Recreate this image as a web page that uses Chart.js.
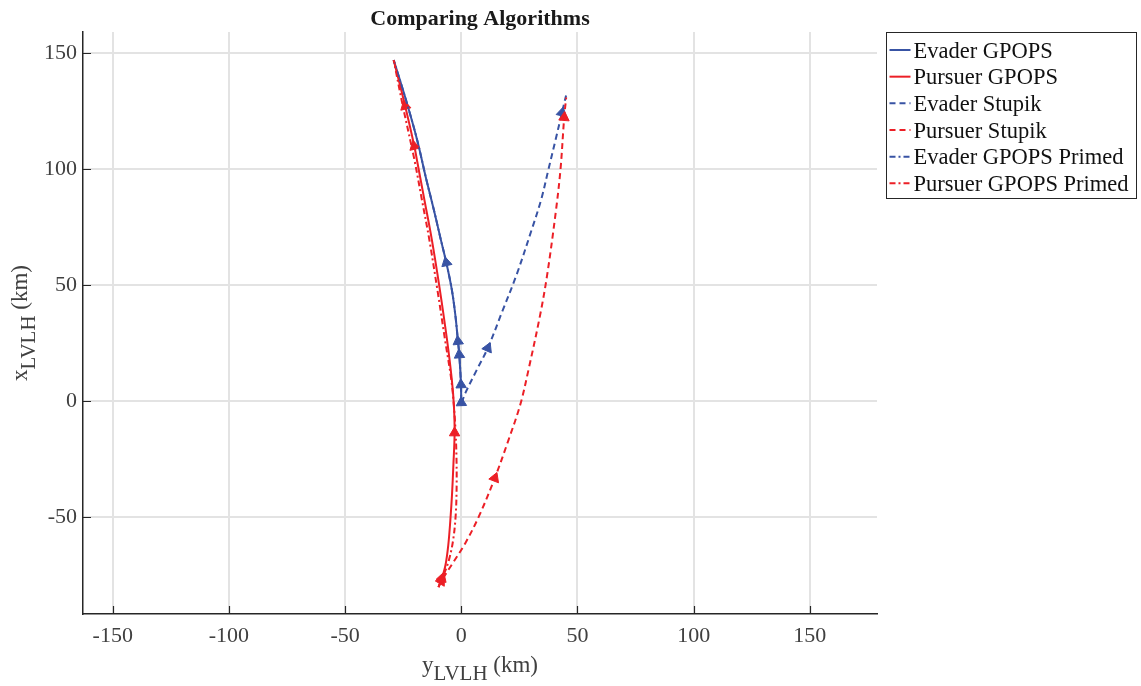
<!DOCTYPE html>
<html>
<head>
<meta charset="utf-8">
<title>Comparing Algorithms</title>
<script src="https://cdn.jsdelivr.net/npm/chart.js@4.4.0/dist/chart.umd.min.js"></script>
<style>
  html, body { margin: 0; padding: 0; background: #fff; }
  #wrap { width: 1141px; height: 686px; }
</style>
</head>
<body>
<div id="wrap"><canvas id="chart" width="1141" height="686"></canvas></div>
<script>
// ===== Trajectories in the LVLH frame (km), y along the horizontal axis =====
const seriesNames = ['Evader GPOPS', 'Pursuer GPOPS', 'Evader Stupik', 'Pursuer Stupik', 'Evader GPOPS Primed', 'Pursuer GPOPS Primed'];

const evaderGpopsY = [0.2, 0.0, -0.13, -0.86, -1.42, -2.58, -4.08, -6.45, -8.81, -11.82, -15.05, -19.05, -23.86, -29.1];
const evaderGpopsX = [-1.9, -0.6, 7.1, 20.0, 25.8, 37.3, 48.1, 59.7, 69.6, 82.5, 95.5, 112.7, 129.9, 146.9];
const evaderGpopsArrows = [1, 2, 3, 4, 7];

const pursuerGpopsY = [-9.8, -8.3, -6.8, -5.6, -4.7, -4.0, -3.4, -2.88, -3.18, -4.08, -6.15, -9.24, -12.68, -15.91, -19.13, -20.2, -24.16, -29.1];
const pursuerGpopsX = [-80.0, -76.1, -70.5, -61.9, -51.1, -40.3, -27.4, -13.6, -1.9, 9.3, 26.5, 48.1, 69.6, 86.9, 104.1, 109.8, 127.1, 146.9];
const pursuerGpopsArrows = [1, 7, 15, 16];

const evaderStupikY = [0.2, 1.72, 6.45, 11.4, 17.6, 23.8, 30.3, 34.4, 37.5, 40.6, 43.3, 45.1];
const evaderStupikX = [-0.6, 3.5, 13.1, 22.9, 38.6, 54.5, 73.9, 86.9, 99.8, 112.7, 124.2, 131.7];
const evaderStupikArrows = [3, 10];

const pursuerStupikY = [-9.8, -8.6, -3.87, 1.72, 7.52, 14.4, 20.34, 25.37, 28.93, 33.96, 36.97, 40.63, 42.69, 44.28, 45.14];
const pursuerStupikX = [-80.0, -77.4, -70.0, -61.1, -49.7, -33.1, -16.6, -1.5, 13.6, 37.3, 54.5, 81.3, 99.8, 122.2, 130.8];
const pursuerStupikArrows = [1, 5, 13];

const evaderPrimedY = [0.2, 0.0, -0.13, -0.86, -1.42, -2.58, -4.08, -6.45, -8.81, -11.82, -15.05, -19.05, -23.86, -29.1];
const evaderPrimedX = [-1.9, -0.6, 7.1, 20.0, 25.8, 37.3, 48.1, 59.7, 69.6, 82.5, 95.5, 112.7, 129.9, 146.9];
const evaderPrimedArrows = [];

const pursuerPrimedY = [-9.8, -7.6, -5.3, -3.5, -2.4, -2.0, -2.1, -2.5, -3.22, -4.3, -7.0, -10.3, -13.76, -16.98, -20.2, -25.15, -29.1];
const pursuerPrimedX = [-80.0, -74.8, -68.3, -59.7, -48.9, -36.0, -23.1, -12.3, -1.5, 9.3, 26.5, 48.1, 69.6, 86.9, 104.1, 127.1, 146.9];
const pursuerPrimedArrows = [];

const xTicks = [-150, -100, -50, 0, 50, 100, 150];
const yTicks = [-50, 0, 50, 100, 150];

const xMin = -162.8, xMax = 178.9;
const yMin = -91.6, yMax = 159;

const blue = '#3853a4';
const red = '#ec1f26';
const axisColor = '#262626';
const tickColor = '#404040';
const serif = '"Liberation Serif", "Times New Roman", serif';

const dashed = [6, 4];
const dashDot = [6, 3, 2, 3];

// direction of travel at point i, as a clockwise angle from "up" (axes are equal)
function heading(hs, vs, i) {
    const a = Math.max(i - 1, 0), b = Math.min(i + 1, hs.length - 1);
    return Math.atan2(hs[b] - hs[a], vs[b] - vs[a]) * 180 / Math.PI;
}

function series(label, hs, vs, arrows, color, dash, order) {
    return {
        label: label,
        data: hs.map((h, i) => ({ x: h, y: vs[i] })),
        showLine: true,
        borderColor: color,
        backgroundColor: color,
        borderWidth: 2,
        borderDash: dash,
        tension: 0.35,
        fill: false,
        order: order,
        pointStyle: 'triangle',
        pointRadius: ctx => arrows.includes(ctx.dataIndex) ? 6 : 0,
        pointHoverRadius: 0,
        pointHitRadius: 0,
        pointBorderWidth: 1,
        pointRotation: ctx => heading(hs, vs, ctx.dataIndex)
    };
}

const datasets = [
    series(seriesNames[0], evaderGpopsY, evaderGpopsX, evaderGpopsArrows, blue, [], 6),
    series(seriesNames[1], pursuerGpopsY, pursuerGpopsX, pursuerGpopsArrows, red, [], 5),
    series(seriesNames[2], evaderStupikY, evaderStupikX, evaderStupikArrows, blue, dashed, 4),
    series(seriesNames[3], pursuerStupikY, pursuerStupikX, pursuerStupikArrows, red, dashed, 3),
    series(seriesNames[4], evaderPrimedY, evaderPrimedX, evaderPrimedArrows, blue, dashDot, 2),
    series(seriesNames[5], pursuerPrimedY, pursuerPrimedX, pursuerPrimedArrows, red, dashDot, 1)
];

// label with a subscript, centred on cx, baseline at 0 of the current transform
function subLabel(ctx, main, sub, tail, cx, base) {
    const big = '23px ' + serif, small = '21px ' + serif;
    ctx.font = big; const w1 = ctx.measureText(main).width; const w3 = ctx.measureText(tail).width;
    ctx.font = small; const w2 = ctx.measureText(sub).width;
    let x = cx - (w1 + w2 + w3) / 2;
    ctx.textAlign = 'left';
    ctx.textBaseline = 'alphabetic';
    ctx.font = big; ctx.fillText(main, x, base); x += w1;
    ctx.font = small; ctx.fillText(sub, x, base + 8); x += w2;
    ctx.font = big; ctx.fillText(tail, x, base);
}

// ===== Title, axis labels, inward ticks and legend box =====
const decorations = {
    id: 'decorations',
    afterDraw(chart) {
        const ctx = chart.ctx, a = chart.chartArea;
        const sx = chart.scales.x, sy = chart.scales.y;
        ctx.save();

        ctx.strokeStyle = axisColor;
        ctx.lineWidth = 1.2;
        ctx.beginPath();
        xTicks.forEach(v => {
            const px = Math.round(sx.getPixelForValue(v)) + 0.5;
            ctx.moveTo(px, a.bottom); ctx.lineTo(px, a.bottom - 8);
        });
        yTicks.forEach(v => {
            const py = Math.round(sy.getPixelForValue(v)) + 0.5;
            ctx.moveTo(a.left, py); ctx.lineTo(a.left + 8, py);
        });
        ctx.stroke();

        const cx = (a.left + a.right) / 2;
        ctx.fillStyle = '#1a1a1a';
        ctx.font = 'bold 22px ' + serif;
        ctx.textAlign = 'center';
        ctx.textBaseline = 'alphabetic';
        ctx.fillText('Comparing Algorithms', cx, 25);

        ctx.fillStyle = tickColor;
        subLabel(ctx, 'y', 'LVLH', ' (km)', cx, 672);

        ctx.save();
        ctx.translate(27, (a.top + a.bottom) / 2);
        ctx.rotate(-Math.PI / 2);
        subLabel(ctx, 'x', 'LVLH', ' (km)', 0, 0);
        ctx.restore();

        // legend
        const lx = a.right + 9.5, ly = 32.5, lw = 250, lh = 166;
        ctx.fillStyle = '#fff';
        ctx.fillRect(lx, ly, lw, lh);
        ctx.strokeStyle = axisColor;
        ctx.lineWidth = 1;
        ctx.strokeRect(lx, ly, lw, lh);
        ctx.font = '22.5px ' + serif;
        ctx.textAlign = 'left';
        datasets.forEach((ds, i) => {
            const cy = ly + 17.5 + i * 26.67;
            ctx.strokeStyle = ds.borderColor;
            ctx.lineWidth = 2;
            ctx.setLineDash(ds.borderDash);
            ctx.beginPath();
            ctx.moveTo(lx + 3, cy); ctx.lineTo(lx + 24, cy);
            ctx.stroke();
            ctx.setLineDash([]);
            ctx.fillStyle = '#111';
            ctx.fillText(ds.label, lx + 27, cy + 7.5);
        });
        ctx.restore();
    }
};

const tickFont = { family: serif, size: 22 };

new Chart(document.getElementById('chart'), {
    type: 'scatter',
    data: { datasets: datasets },
    options: {
        responsive: false,
        animation: false,
        devicePixelRatio: 1,
        layout: { padding: { top: 32, right: 264, left: 0, bottom: 0 } },
        plugins: {
            legend: { display: false },
            title: { display: false },
            tooltip: { enabled: false }
        },
        scales: {
            x: {
                type: 'linear',
                min: xMin,
                max: xMax,
                afterBuildTicks: s => { s.ticks = xTicks.map(v => ({ value: v })); },
                afterFit: s => { s.height = 72; },
                grid: { color: '#e3e3e3', lineWidth: 2, drawTicks: false },
                border: { display: true, color: axisColor, width: 1.5 },
                ticks: { font: tickFont, color: tickColor, padding: 9, maxRotation: 0, autoSkip: false, callback: v => String(v) }
            },
            y: {
                type: 'linear',
                min: yMin,
                max: yMax,
                afterBuildTicks: s => { s.ticks = yTicks.map(v => ({ value: v })); },
                afterFit: s => { s.width = 83; },
                grid: { color: '#e3e3e3', lineWidth: 2, drawTicks: false },
                border: { display: true, color: axisColor, width: 1.5 },
                ticks: { font: tickFont, color: tickColor, padding: 6, autoSkip: false, callback: v => String(v) }
            }
        }
    },
    plugins: [decorations]
});
</script>
</body>
</html>
